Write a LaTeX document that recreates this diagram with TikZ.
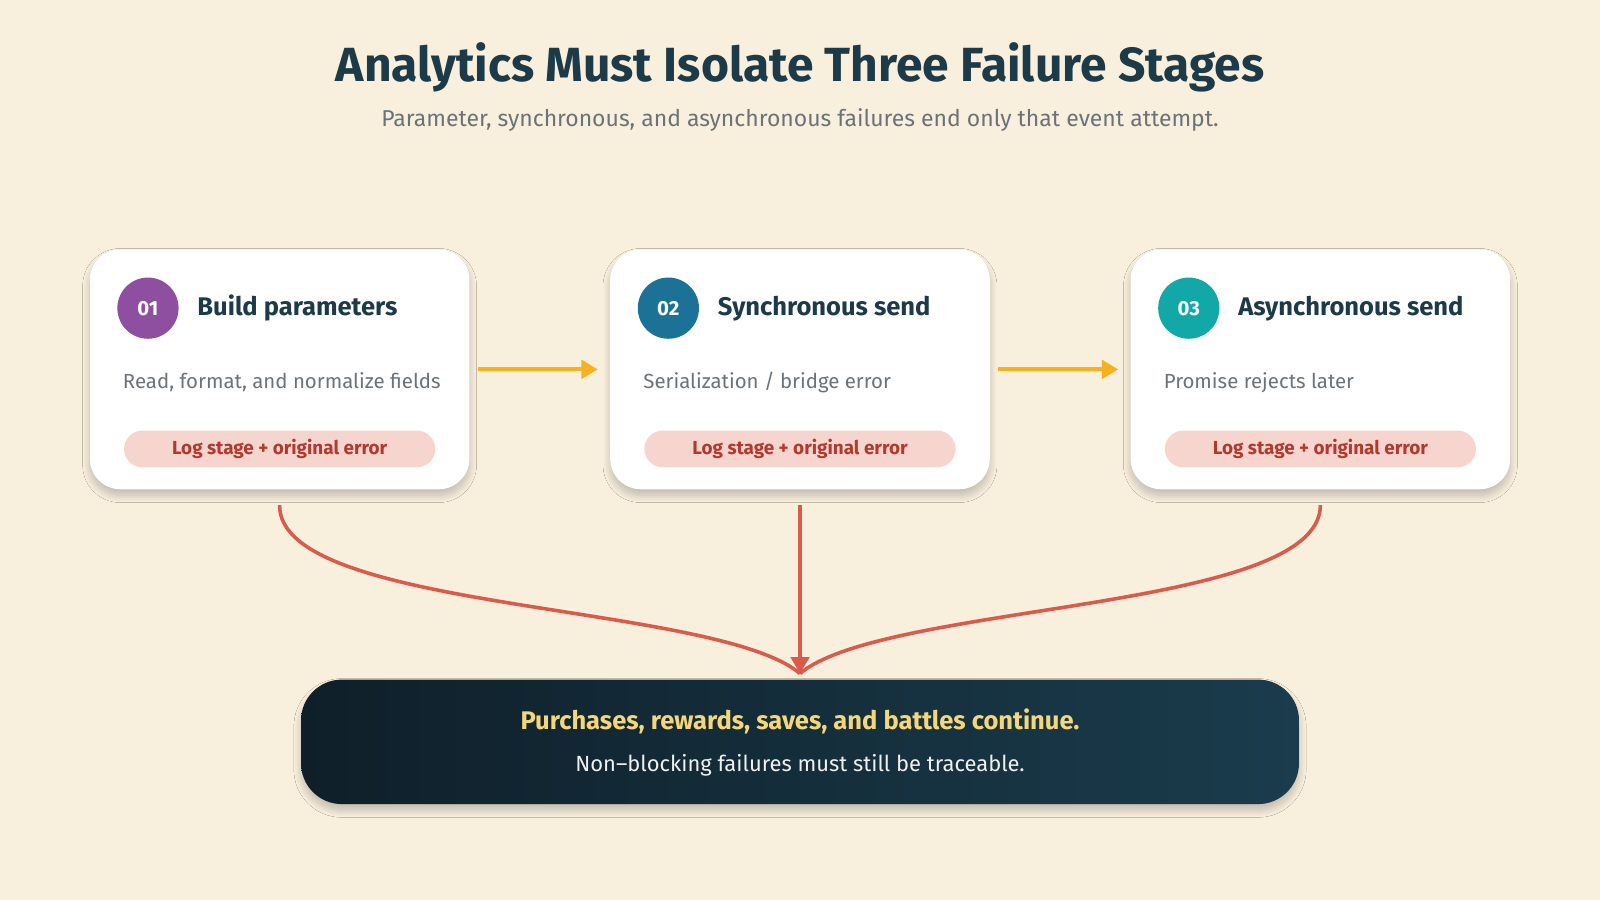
\documentclass[tikz,border=0pt]{standalone}
\usepackage{fontspec}
\setmainfont{Fira Sans}
\usetikzlibrary{arrows.meta,shadows.blur}
\definecolor{bg}{HTML}{F8EFDD}
\definecolor{ink}{HTML}{1D3A48}
\definecolor{gr}{HTML}{6B7378}
\definecolor{pillf}{HTML}{F7D5CF}
\definecolor{pillt}{HTML}{B03A2E}
\definecolor{org}{HTML}{F5B120}
\definecolor{redl}{HTML}{D95B4C}
\definecolor{dk1}{HTML}{0F1F2A}
\definecolor{dk2}{HTML}{1A3C4C}
\definecolor{yel}{HTML}{F5D77A}
\definecolor{c1}{HTML}{8E4FA0}
\definecolor{c2}{HTML}{1C7196}
\definecolor{c3}{HTML}{12A8A8}
\tikzset{
 soft/.style={blur shadow={shadow blur steps=12,shadow blur radius=7pt,shadow xshift=0pt,shadow yshift=-6pt,shadow opacity=22}},
 card/.style={fill=white,rounded corners=30pt,minimum width=372pt,minimum height=235pt,soft},
 num/.style={circle,minimum size=60pt,inner sep=0pt,text=white,font=\fontsize{20}{24}\selectfont\bfseries},
 ttl/.style={anchor=west,text=ink,font=\fontsize{25}{30}\selectfont\bfseries},
 desc/.style={anchor=west,text=gr,font=\fontsize{20}{24}\selectfont},
 pill/.style={fill=pillf,rounded corners=18pt,minimum width=305pt,minimum height=36pt,text=pillt,font=\fontsize{18.5}{22}\selectfont\bfseries},
 oarr/.style={org,line width=4pt,-{Triangle[length=16pt,width=18pt]}},
 rl/.style={redl,line width=3.5pt},
}
\begin{document}
\begin{tikzpicture}[x=1pt,y=-1pt]
\fill[bg] (0,0) rectangle (1568,882);
\useasboundingbox (0,0) rectangle (1568,882);
\node[text=ink,font=\fontsize{47}{54}\selectfont\bfseries] (title) at (784,66) {Analytics Must Isolate Three Failure Stages};
\node[text=gr,font=\fontsize{22.5}{27}\selectfont] (sub) at (784,118) {Parameter, synchronous, and asynchronous failures end only that event attempt.};
\foreach \i/\x/\c/\t/\d in {1/274/c1/Build parameters/{Read, format, and normalize fields},2/784/c2/Synchronous send/{Serialization / bridge error},3/1294/c3/Asynchronous send/Promise rejects later}{
 \node[card] (card\i) at (\x,362) {};
 \node[num,fill=\c] (n\i) at (\x-129,302) {0\i};
 \node[ttl] (t\i) at (\x-84,302) {\t};
 \node[desc] (d\i) at (\x-157,375) {\d};
 \node[pill] (p\i) at (\x,440) {Log stage + original error};
 \coordinate (s\i) at (\x,495);
}
\draw[oarr] (card1.east)+(8,0) -- ([xshift=-12pt]card2.west);
\draw[oarr] (card2.east)+(8,0) -- ([xshift=-12pt]card3.west);
\coordinate (m) at (784,660);
\draw[rl] (s1) .. controls (273,600) and (700,590) .. (m);
\draw[rl] (s3) .. controls (1294,600) and (868,590) .. (m);
\draw[rl,-{Triangle[length=16pt,width=18pt]}] (s2) -- (m);
\node[rounded corners=40pt,minimum width=978pt,minimum height=122pt,left color=dk1,right color=dk2,soft] (box) at (784,727) {};
\node[text=yel,font=\fontsize{25}{30}\selectfont\bfseries] (b1) at (784,707) {Purchases, rewards, saves, and battles continue.};
\node[text=white!88!gray,font=\fontsize{21.5}{26}\selectfont] (b2) at (784,750) {Non–blocking failures must still be traceable.};
\end{tikzpicture}
\end{document}
